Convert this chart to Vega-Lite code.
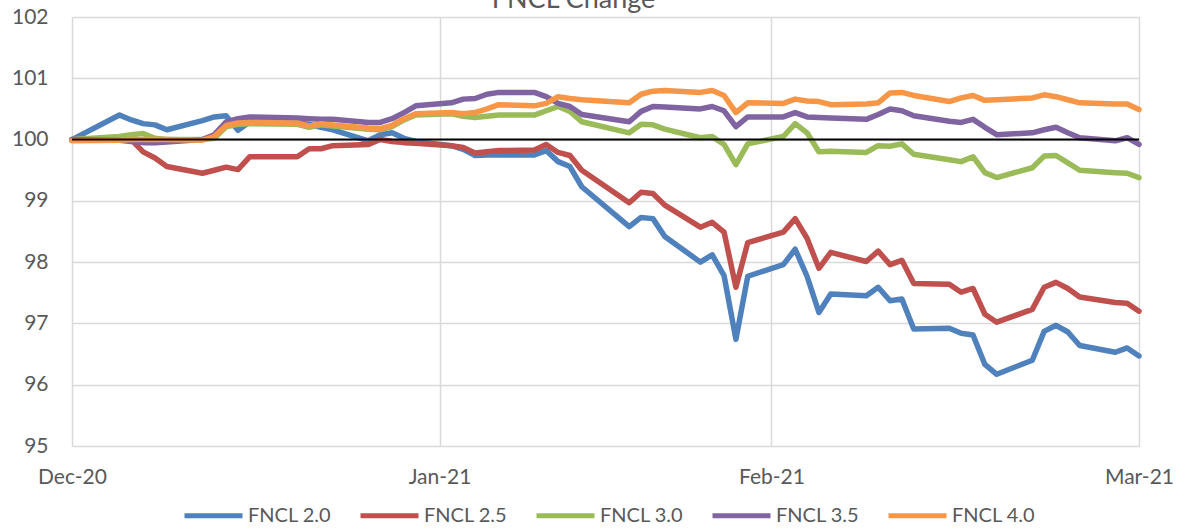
{
"$schema": "https://vega.github.io/schema/vega-lite/v6.json",
"width": 1067, "height": 429,
"autosize": {"type": "none"},
"padding": {"left": 72, "top": 17, "right": 38, "bottom": 82},
"background": "white",
"title": {"text": "FNCL Change", "fontSize": 27, "font": "Lato", "fontWeight": "normal", "color": "#595959", "anchor": "middle", "dx": -32, "offset": -8},
"config": {"view": {"stroke": null}, "font": "Lato"},
"data": {"values": [
{"d":"2020-12-31","s":"FNCL 2.0","v":100.0},{"d":"2021-01-04","s":"FNCL 2.0","v":100.40},{"d":"2021-01-05","s":"FNCL 2.0","v":100.32},{"d":"2021-01-06","s":"FNCL 2.0","v":100.26},{"d":"2021-01-07","s":"FNCL 2.0","v":100.24},{"d":"2021-01-08","s":"FNCL 2.0","v":100.16},{"d":"2021-01-11","s":"FNCL 2.0","v":100.31},{"d":"2021-01-12","s":"FNCL 2.0","v":100.37},{"d":"2021-01-13","s":"FNCL 2.0","v":100.39},{"d":"2021-01-14","s":"FNCL 2.0","v":100.15},{"d":"2021-01-15","s":"FNCL 2.0","v":100.29},{"d":"2021-01-19","s":"FNCL 2.0","v":100.27},{"d":"2021-01-20","s":"FNCL 2.0","v":100.25},{"d":"2021-01-21","s":"FNCL 2.0","v":100.20},{"d":"2021-01-22","s":"FNCL 2.0","v":100.16},{"d":"2021-01-25","s":"FNCL 2.0","v":99.98},{"d":"2021-01-26","s":"FNCL 2.0","v":100.08},{"d":"2021-01-27","s":"FNCL 2.0","v":100.11},{"d":"2021-01-28","s":"FNCL 2.0","v":100.02},{"d":"2021-01-29","s":"FNCL 2.0","v":99.97},{"d":"2021-02-01","s":"FNCL 2.0","v":99.90},{"d":"2021-02-02","s":"FNCL 2.0","v":99.84},{"d":"2021-02-03","s":"FNCL 2.0","v":99.74},{"d":"2021-02-04","s":"FNCL 2.0","v":99.75},{"d":"2021-02-05","s":"FNCL 2.0","v":99.75},{"d":"2021-02-08","s":"FNCL 2.0","v":99.75},{"d":"2021-02-09","s":"FNCL 2.0","v":99.82},{"d":"2021-02-10","s":"FNCL 2.0","v":99.64},{"d":"2021-02-11","s":"FNCL 2.0","v":99.56},{"d":"2021-02-12","s":"FNCL 2.0","v":99.23},{"d":"2021-02-16","s":"FNCL 2.0","v":98.58},{"d":"2021-02-17","s":"FNCL 2.0","v":98.73},{"d":"2021-02-18","s":"FNCL 2.0","v":98.71},{"d":"2021-02-19","s":"FNCL 2.0","v":98.42},{"d":"2021-02-22","s":"FNCL 2.0","v":98.00},{"d":"2021-02-23","s":"FNCL 2.0","v":98.12},{"d":"2021-02-24","s":"FNCL 2.0","v":97.78},{"d":"2021-02-25","s":"FNCL 2.0","v":96.74},{"d":"2021-02-26","s":"FNCL 2.0","v":97.77},{"d":"2021-03-01","s":"FNCL 2.0","v":97.96},{"d":"2021-03-02","s":"FNCL 2.0","v":98.21},{"d":"2021-03-03","s":"FNCL 2.0","v":97.77},{"d":"2021-03-04","s":"FNCL 2.0","v":97.18},{"d":"2021-03-05","s":"FNCL 2.0","v":97.48},{"d":"2021-03-08","s":"FNCL 2.0","v":97.45},{"d":"2021-03-09","s":"FNCL 2.0","v":97.59},{"d":"2021-03-10","s":"FNCL 2.0","v":97.37},{"d":"2021-03-11","s":"FNCL 2.0","v":97.40},{"d":"2021-03-12","s":"FNCL 2.0","v":96.91},{"d":"2021-03-15","s":"FNCL 2.0","v":96.92},{"d":"2021-03-16","s":"FNCL 2.0","v":96.84},{"d":"2021-03-17","s":"FNCL 2.0","v":96.81},{"d":"2021-03-18","s":"FNCL 2.0","v":96.33},{"d":"2021-03-19","s":"FNCL 2.0","v":96.17},{"d":"2021-03-22","s":"FNCL 2.0","v":96.40},{"d":"2021-03-23","s":"FNCL 2.0","v":96.87},{"d":"2021-03-24","s":"FNCL 2.0","v":96.97},{"d":"2021-03-25","s":"FNCL 2.0","v":96.86},{"d":"2021-03-26","s":"FNCL 2.0","v":96.64},{"d":"2021-03-29","s":"FNCL 2.0","v":96.53},{"d":"2021-03-30","s":"FNCL 2.0","v":96.60},{"d":"2021-03-31","s":"FNCL 2.0","v":96.47},
{"d":"2020-12-31","s":"FNCL 2.5","v":99.99},{"d":"2021-01-04","s":"FNCL 2.5","v":100.03},{"d":"2021-01-05","s":"FNCL 2.5","v":100.0},{"d":"2021-01-06","s":"FNCL 2.5","v":99.80},{"d":"2021-01-07","s":"FNCL 2.5","v":99.70},{"d":"2021-01-08","s":"FNCL 2.5","v":99.56},{"d":"2021-01-11","s":"FNCL 2.5","v":99.45},{"d":"2021-01-12","s":"FNCL 2.5","v":99.50},{"d":"2021-01-13","s":"FNCL 2.5","v":99.55},{"d":"2021-01-14","s":"FNCL 2.5","v":99.51},{"d":"2021-01-15","s":"FNCL 2.5","v":99.72},{"d":"2021-01-19","s":"FNCL 2.5","v":99.72},{"d":"2021-01-20","s":"FNCL 2.5","v":99.85},{"d":"2021-01-21","s":"FNCL 2.5","v":99.85},{"d":"2021-01-22","s":"FNCL 2.5","v":99.90},{"d":"2021-01-25","s":"FNCL 2.5","v":99.92},{"d":"2021-01-26","s":"FNCL 2.5","v":100.0},{"d":"2021-01-27","s":"FNCL 2.5","v":99.97},{"d":"2021-01-28","s":"FNCL 2.5","v":99.95},{"d":"2021-01-29","s":"FNCL 2.5","v":99.94},{"d":"2021-02-01","s":"FNCL 2.5","v":99.90},{"d":"2021-02-02","s":"FNCL 2.5","v":99.87},{"d":"2021-02-03","s":"FNCL 2.5","v":99.78},{"d":"2021-02-04","s":"FNCL 2.5","v":99.80},{"d":"2021-02-05","s":"FNCL 2.5","v":99.82},{"d":"2021-02-08","s":"FNCL 2.5","v":99.83},{"d":"2021-02-09","s":"FNCL 2.5","v":99.92},{"d":"2021-02-10","s":"FNCL 2.5","v":99.79},{"d":"2021-02-11","s":"FNCL 2.5","v":99.74},{"d":"2021-02-12","s":"FNCL 2.5","v":99.50},{"d":"2021-02-16","s":"FNCL 2.5","v":98.97},{"d":"2021-02-17","s":"FNCL 2.5","v":99.14},{"d":"2021-02-18","s":"FNCL 2.5","v":99.12},{"d":"2021-02-19","s":"FNCL 2.5","v":98.93},{"d":"2021-02-22","s":"FNCL 2.5","v":98.57},{"d":"2021-02-23","s":"FNCL 2.5","v":98.65},{"d":"2021-02-24","s":"FNCL 2.5","v":98.49},{"d":"2021-02-25","s":"FNCL 2.5","v":97.59},{"d":"2021-02-26","s":"FNCL 2.5","v":98.32},{"d":"2021-03-01","s":"FNCL 2.5","v":98.49},{"d":"2021-03-02","s":"FNCL 2.5","v":98.71},{"d":"2021-03-03","s":"FNCL 2.5","v":98.39},{"d":"2021-03-04","s":"FNCL 2.5","v":97.90},{"d":"2021-03-05","s":"FNCL 2.5","v":98.16},{"d":"2021-03-08","s":"FNCL 2.5","v":98.01},{"d":"2021-03-09","s":"FNCL 2.5","v":98.18},{"d":"2021-03-10","s":"FNCL 2.5","v":97.96},{"d":"2021-03-11","s":"FNCL 2.5","v":98.03},{"d":"2021-03-12","s":"FNCL 2.5","v":97.65},{"d":"2021-03-15","s":"FNCL 2.5","v":97.64},{"d":"2021-03-16","s":"FNCL 2.5","v":97.51},{"d":"2021-03-17","s":"FNCL 2.5","v":97.57},{"d":"2021-03-18","s":"FNCL 2.5","v":97.15},{"d":"2021-03-19","s":"FNCL 2.5","v":97.02},{"d":"2021-03-22","s":"FNCL 2.5","v":97.23},{"d":"2021-03-23","s":"FNCL 2.5","v":97.59},{"d":"2021-03-24","s":"FNCL 2.5","v":97.67},{"d":"2021-03-25","s":"FNCL 2.5","v":97.57},{"d":"2021-03-26","s":"FNCL 2.5","v":97.43},{"d":"2021-03-29","s":"FNCL 2.5","v":97.34},{"d":"2021-03-30","s":"FNCL 2.5","v":97.33},{"d":"2021-03-31","s":"FNCL 2.5","v":97.20},
{"d":"2020-12-31","s":"FNCL 3.0","v":100.0},{"d":"2021-01-04","s":"FNCL 3.0","v":100.05},{"d":"2021-01-05","s":"FNCL 3.0","v":100.08},{"d":"2021-01-06","s":"FNCL 3.0","v":100.10},{"d":"2021-01-07","s":"FNCL 3.0","v":100.02},{"d":"2021-01-08","s":"FNCL 3.0","v":100.0},{"d":"2021-01-11","s":"FNCL 3.0","v":100.0},{"d":"2021-01-12","s":"FNCL 3.0","v":100.02},{"d":"2021-01-13","s":"FNCL 3.0","v":100.21},{"d":"2021-01-14","s":"FNCL 3.0","v":100.25},{"d":"2021-01-15","s":"FNCL 3.0","v":100.26},{"d":"2021-01-19","s":"FNCL 3.0","v":100.25},{"d":"2021-01-20","s":"FNCL 3.0","v":100.20},{"d":"2021-01-21","s":"FNCL 3.0","v":100.24},{"d":"2021-01-22","s":"FNCL 3.0","v":100.22},{"d":"2021-01-25","s":"FNCL 3.0","v":100.17},{"d":"2021-01-26","s":"FNCL 3.0","v":100.16},{"d":"2021-01-27","s":"FNCL 3.0","v":100.21},{"d":"2021-01-28","s":"FNCL 3.0","v":100.32},{"d":"2021-01-29","s":"FNCL 3.0","v":100.40},{"d":"2021-02-01","s":"FNCL 3.0","v":100.42},{"d":"2021-02-02","s":"FNCL 3.0","v":100.38},{"d":"2021-02-03","s":"FNCL 3.0","v":100.36},{"d":"2021-02-04","s":"FNCL 3.0","v":100.38},{"d":"2021-02-05","s":"FNCL 3.0","v":100.40},{"d":"2021-02-08","s":"FNCL 3.0","v":100.40},{"d":"2021-02-09","s":"FNCL 3.0","v":100.47},{"d":"2021-02-10","s":"FNCL 3.0","v":100.54},{"d":"2021-02-11","s":"FNCL 3.0","v":100.46},{"d":"2021-02-12","s":"FNCL 3.0","v":100.29},{"d":"2021-02-16","s":"FNCL 3.0","v":100.11},{"d":"2021-02-17","s":"FNCL 3.0","v":100.25},{"d":"2021-02-18","s":"FNCL 3.0","v":100.24},{"d":"2021-02-19","s":"FNCL 3.0","v":100.17},{"d":"2021-02-22","s":"FNCL 3.0","v":100.03},{"d":"2021-02-23","s":"FNCL 3.0","v":100.05},{"d":"2021-02-24","s":"FNCL 3.0","v":99.92},{"d":"2021-02-25","s":"FNCL 3.0","v":99.59},{"d":"2021-02-26","s":"FNCL 3.0","v":99.93},{"d":"2021-03-01","s":"FNCL 3.0","v":100.05},{"d":"2021-03-02","s":"FNCL 3.0","v":100.26},{"d":"2021-03-03","s":"FNCL 3.0","v":100.11},{"d":"2021-03-04","s":"FNCL 3.0","v":99.80},{"d":"2021-03-05","s":"FNCL 3.0","v":99.81},{"d":"2021-03-08","s":"FNCL 3.0","v":99.79},{"d":"2021-03-09","s":"FNCL 3.0","v":99.90},{"d":"2021-03-10","s":"FNCL 3.0","v":99.89},{"d":"2021-03-11","s":"FNCL 3.0","v":99.93},{"d":"2021-03-12","s":"FNCL 3.0","v":99.76},{"d":"2021-03-15","s":"FNCL 3.0","v":99.67},{"d":"2021-03-16","s":"FNCL 3.0","v":99.64},{"d":"2021-03-17","s":"FNCL 3.0","v":99.72},{"d":"2021-03-18","s":"FNCL 3.0","v":99.46},{"d":"2021-03-19","s":"FNCL 3.0","v":99.38},{"d":"2021-03-22","s":"FNCL 3.0","v":99.54},{"d":"2021-03-23","s":"FNCL 3.0","v":99.73},{"d":"2021-03-24","s":"FNCL 3.0","v":99.74},{"d":"2021-03-25","s":"FNCL 3.0","v":99.62},{"d":"2021-03-26","s":"FNCL 3.0","v":99.50},{"d":"2021-03-29","s":"FNCL 3.0","v":99.46},{"d":"2021-03-30","s":"FNCL 3.0","v":99.45},{"d":"2021-03-31","s":"FNCL 3.0","v":99.38},
{"d":"2020-12-31","s":"FNCL 3.5","v":100.0},{"d":"2021-01-04","s":"FNCL 3.5","v":99.99},{"d":"2021-01-05","s":"FNCL 3.5","v":99.97},{"d":"2021-01-06","s":"FNCL 3.5","v":99.95},{"d":"2021-01-07","s":"FNCL 3.5","v":99.95},{"d":"2021-01-08","s":"FNCL 3.5","v":99.96},{"d":"2021-01-11","s":"FNCL 3.5","v":100.0},{"d":"2021-01-12","s":"FNCL 3.5","v":100.08},{"d":"2021-01-13","s":"FNCL 3.5","v":100.29},{"d":"2021-01-14","s":"FNCL 3.5","v":100.34},{"d":"2021-01-15","s":"FNCL 3.5","v":100.37},{"d":"2021-01-19","s":"FNCL 3.5","v":100.35},{"d":"2021-01-20","s":"FNCL 3.5","v":100.34},{"d":"2021-01-21","s":"FNCL 3.5","v":100.33},{"d":"2021-01-22","s":"FNCL 3.5","v":100.33},{"d":"2021-01-25","s":"FNCL 3.5","v":100.28},{"d":"2021-01-26","s":"FNCL 3.5","v":100.28},{"d":"2021-01-27","s":"FNCL 3.5","v":100.34},{"d":"2021-01-28","s":"FNCL 3.5","v":100.44},{"d":"2021-01-29","s":"FNCL 3.5","v":100.55},{"d":"2021-02-01","s":"FNCL 3.5","v":100.60},{"d":"2021-02-02","s":"FNCL 3.5","v":100.66},{"d":"2021-02-03","s":"FNCL 3.5","v":100.67},{"d":"2021-02-04","s":"FNCL 3.5","v":100.74},{"d":"2021-02-05","s":"FNCL 3.5","v":100.77},{"d":"2021-02-08","s":"FNCL 3.5","v":100.77},{"d":"2021-02-09","s":"FNCL 3.5","v":100.70},{"d":"2021-02-10","s":"FNCL 3.5","v":100.59},{"d":"2021-02-11","s":"FNCL 3.5","v":100.54},{"d":"2021-02-12","s":"FNCL 3.5","v":100.41},{"d":"2021-02-16","s":"FNCL 3.5","v":100.29},{"d":"2021-02-17","s":"FNCL 3.5","v":100.46},{"d":"2021-02-18","s":"FNCL 3.5","v":100.54},{"d":"2021-02-19","s":"FNCL 3.5","v":100.53},{"d":"2021-02-22","s":"FNCL 3.5","v":100.50},{"d":"2021-02-23","s":"FNCL 3.5","v":100.54},{"d":"2021-02-24","s":"FNCL 3.5","v":100.47},{"d":"2021-02-25","s":"FNCL 3.5","v":100.21},{"d":"2021-02-26","s":"FNCL 3.5","v":100.37},{"d":"2021-03-01","s":"FNCL 3.5","v":100.37},{"d":"2021-03-02","s":"FNCL 3.5","v":100.44},{"d":"2021-03-03","s":"FNCL 3.5","v":100.37},{"d":"2021-03-04","s":"FNCL 3.5","v":100.36},{"d":"2021-03-05","s":"FNCL 3.5","v":100.35},{"d":"2021-03-08","s":"FNCL 3.5","v":100.33},{"d":"2021-03-09","s":"FNCL 3.5","v":100.41},{"d":"2021-03-10","s":"FNCL 3.5","v":100.50},{"d":"2021-03-11","s":"FNCL 3.5","v":100.47},{"d":"2021-03-12","s":"FNCL 3.5","v":100.39},{"d":"2021-03-15","s":"FNCL 3.5","v":100.30},{"d":"2021-03-16","s":"FNCL 3.5","v":100.28},{"d":"2021-03-17","s":"FNCL 3.5","v":100.33},{"d":"2021-03-18","s":"FNCL 3.5","v":100.20},{"d":"2021-03-19","s":"FNCL 3.5","v":100.08},{"d":"2021-03-22","s":"FNCL 3.5","v":100.11},{"d":"2021-03-23","s":"FNCL 3.5","v":100.16},{"d":"2021-03-24","s":"FNCL 3.5","v":100.20},{"d":"2021-03-25","s":"FNCL 3.5","v":100.11},{"d":"2021-03-26","s":"FNCL 3.5","v":100.03},{"d":"2021-03-29","s":"FNCL 3.5","v":99.98},{"d":"2021-03-30","s":"FNCL 3.5","v":100.03},{"d":"2021-03-31","s":"FNCL 3.5","v":99.92},
{"d":"2020-12-31","s":"FNCL 4.0","v":99.98},{"d":"2021-01-04","s":"FNCL 4.0","v":99.99},{"d":"2021-01-05","s":"FNCL 4.0","v":100.0},{"d":"2021-01-06","s":"FNCL 4.0","v":100.0},{"d":"2021-01-07","s":"FNCL 4.0","v":100.0},{"d":"2021-01-08","s":"FNCL 4.0","v":100.0},{"d":"2021-01-11","s":"FNCL 4.0","v":99.99},{"d":"2021-01-12","s":"FNCL 4.0","v":100.05},{"d":"2021-01-13","s":"FNCL 4.0","v":100.23},{"d":"2021-01-14","s":"FNCL 4.0","v":100.27},{"d":"2021-01-15","s":"FNCL 4.0","v":100.28},{"d":"2021-01-19","s":"FNCL 4.0","v":100.27},{"d":"2021-01-20","s":"FNCL 4.0","v":100.22},{"d":"2021-01-21","s":"FNCL 4.0","v":100.26},{"d":"2021-01-22","s":"FNCL 4.0","v":100.24},{"d":"2021-01-25","s":"FNCL 4.0","v":100.19},{"d":"2021-01-26","s":"FNCL 4.0","v":100.18},{"d":"2021-01-27","s":"FNCL 4.0","v":100.23},{"d":"2021-01-28","s":"FNCL 4.0","v":100.34},{"d":"2021-01-29","s":"FNCL 4.0","v":100.42},{"d":"2021-02-01","s":"FNCL 4.0","v":100.44},{"d":"2021-02-02","s":"FNCL 4.0","v":100.42},{"d":"2021-02-03","s":"FNCL 4.0","v":100.44},{"d":"2021-02-04","s":"FNCL 4.0","v":100.50},{"d":"2021-02-05","s":"FNCL 4.0","v":100.57},{"d":"2021-02-08","s":"FNCL 4.0","v":100.55},{"d":"2021-02-09","s":"FNCL 4.0","v":100.59},{"d":"2021-02-10","s":"FNCL 4.0","v":100.70},{"d":"2021-02-11","s":"FNCL 4.0","v":100.67},{"d":"2021-02-12","s":"FNCL 4.0","v":100.65},{"d":"2021-02-16","s":"FNCL 4.0","v":100.60},{"d":"2021-02-17","s":"FNCL 4.0","v":100.74},{"d":"2021-02-18","s":"FNCL 4.0","v":100.79},{"d":"2021-02-19","s":"FNCL 4.0","v":100.80},{"d":"2021-02-22","s":"FNCL 4.0","v":100.77},{"d":"2021-02-23","s":"FNCL 4.0","v":100.80},{"d":"2021-02-24","s":"FNCL 4.0","v":100.72},{"d":"2021-02-25","s":"FNCL 4.0","v":100.44},{"d":"2021-02-26","s":"FNCL 4.0","v":100.60},{"d":"2021-03-01","s":"FNCL 4.0","v":100.59},{"d":"2021-03-02","s":"FNCL 4.0","v":100.66},{"d":"2021-03-03","s":"FNCL 4.0","v":100.63},{"d":"2021-03-04","s":"FNCL 4.0","v":100.62},{"d":"2021-03-05","s":"FNCL 4.0","v":100.57},{"d":"2021-03-08","s":"FNCL 4.0","v":100.58},{"d":"2021-03-09","s":"FNCL 4.0","v":100.60},{"d":"2021-03-10","s":"FNCL 4.0","v":100.76},{"d":"2021-03-11","s":"FNCL 4.0","v":100.77},{"d":"2021-03-12","s":"FNCL 4.0","v":100.72},{"d":"2021-03-15","s":"FNCL 4.0","v":100.62},{"d":"2021-03-16","s":"FNCL 4.0","v":100.68},{"d":"2021-03-17","s":"FNCL 4.0","v":100.72},{"d":"2021-03-18","s":"FNCL 4.0","v":100.64},{"d":"2021-03-19","s":"FNCL 4.0","v":100.65},{"d":"2021-03-22","s":"FNCL 4.0","v":100.68},{"d":"2021-03-23","s":"FNCL 4.0","v":100.73},{"d":"2021-03-24","s":"FNCL 4.0","v":100.70},{"d":"2021-03-25","s":"FNCL 4.0","v":100.65},{"d":"2021-03-26","s":"FNCL 4.0","v":100.60},{"d":"2021-03-29","s":"FNCL 4.0","v":100.58},{"d":"2021-03-30","s":"FNCL 4.0","v":100.58},{"d":"2021-03-31","s":"FNCL 4.0","v":100.49}
]},
"layer": [
{"mark": {"type": "line", "strokeWidth": 5.5, "strokeJoin": "round", "strokeCap": "round"},
 "encoding": {
  "x": {"field": "d", "type": "temporal",
        "scale": {"type": "utc", "domain": [{"year": 2020, "month": 12, "date": 31, "utc": true}, {"year": 2021, "month": 3, "date": 31, "utc": true}]},
        "axis": {"title": null, "values": [{"year": 2020, "month": 12, "date": 31, "utc": true}, {"year": 2021, "month": 1, "date": 31, "utc": true}, {"year": 2021, "month": 2, "date": 28, "utc": true}, {"year": 2021, "month": 3, "date": 31, "utc": true}],
                 "labelExpr": "utcFormat(datum.value, '%b-%y')", "grid": true, "gridColor": "#D9D9D9", "gridWidth": 1.5, "domain": false, "ticks": false,
                 "labelFont": "Lato", "labelFontSize": 21, "labelColor": "#595959", "labelPadding": 20, "labelAngle": 0, "labelOverlap": false, "labelFlush": false}},
  "y": {"field": "v", "type": "quantitative",
        "scale": {"domain": [95, 102], "nice": false, "zero": false},
        "axis": {"title": null, "values": [95, 96, 97, 98, 99, 100, 101, 102], "format": "d", "grid": true, "gridColor": "#D9D9D9", "gridWidth": 1.5, "domain": false, "ticks": false,
                 "labelFont": "Lato", "labelFontSize": 21, "labelColor": "#595959", "labelPadding": 24}},
  "color": {"field": "s", "type": "nominal",
        "scale": {"domain": ["FNCL 2.0", "FNCL 2.5", "FNCL 3.0", "FNCL 3.5", "FNCL 4.0"], "range": ["#4F81BD", "#C0504D", "#9BBB59", "#8064A2", "#F79646"]},
        "legend": {"title": null, "orient": "none", "legendX": 110, "legendY": 467, "direction": "horizontal", "symbolType": "stroke", "symbolSize": 3364, "symbolStrokeWidth": 5,
                   "labelFont": "Lato", "labelFontSize": 20, "labelColor": "#595959", "labelOffset": 3, "columnPadding": 18, "padding": 0}}
 }},
{"data": {"values": [{}]},
 "mark": {"type": "rule", "color": "black", "strokeWidth": 2},
 "encoding": {"y": {"datum": 100}}}
]
}
